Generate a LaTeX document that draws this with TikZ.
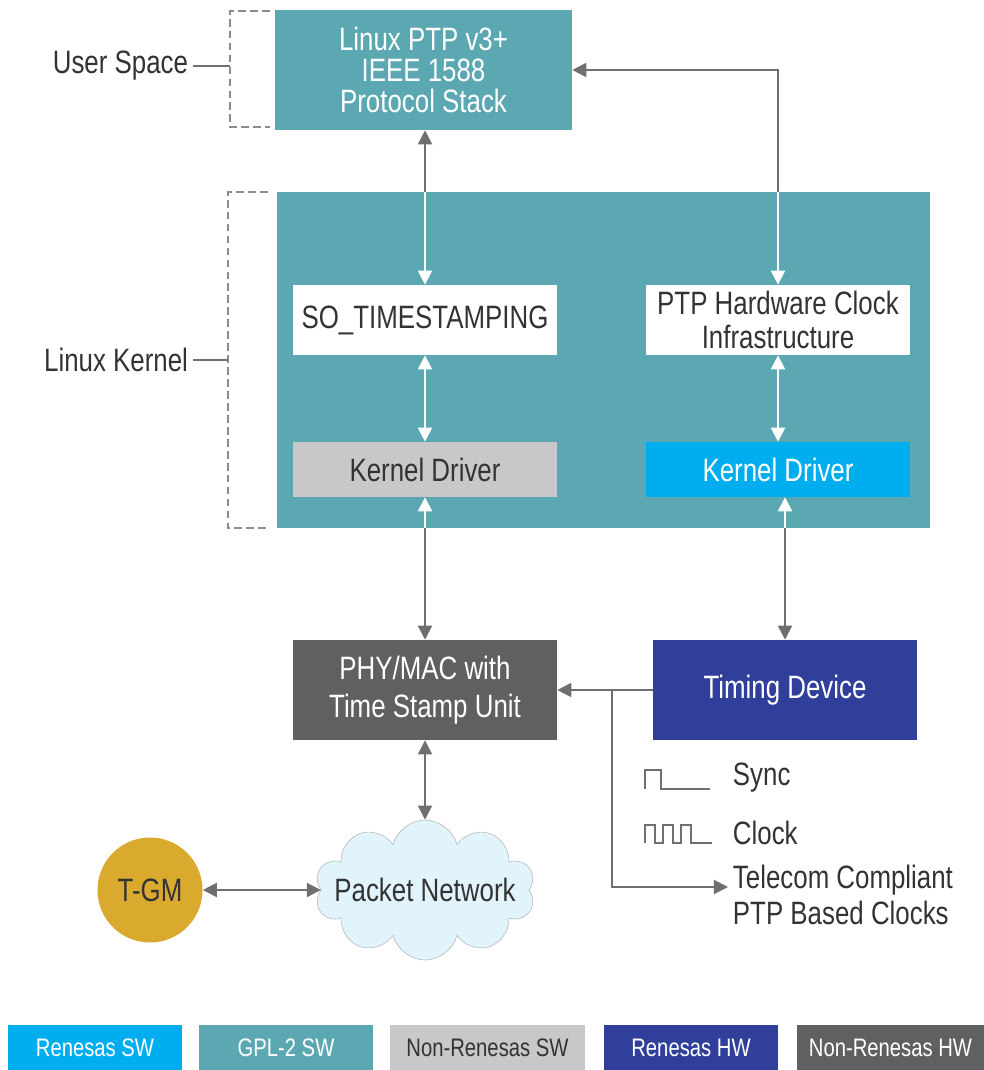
\documentclass[tikz,border=0pt]{standalone}
\usepackage{fontspec}
\setmainfont{Liberation Sans}[FakeStretch=0.8]
\usepackage{tikz}
\usepackage{xcolor}
\usetikzlibrary{arrows.meta,positioning,shapes}

\definecolor{renblue}{HTML}{00AEEF}
\definecolor{gplteal}{HTML}{5BA8B2}
\definecolor{nrgray}{HTML}{C8C8CA}
\definecolor{rennavy}{HTML}{30409A}
\definecolor{nrdark}{HTML}{5F6062}
\definecolor{tgmgold}{HTML}{DAAA2F}
\definecolor{cloudblue}{HTML}{E1F3FB}
\definecolor{cloudedge}{HTML}{B4B6B8}
\definecolor{linegray}{HTML}{6E6F71}
\definecolor{txt}{HTML}{333333}

\begin{document}
\begin{tikzpicture}[x=0.025cm, y=-0.025cm, >={Triangle[length=10pt,width=10pt]}]
    \tikzstyle{box} = [rectangle, inner sep=0pt, minimum width=6.6cm, text=txt, align=center,
                       font=\fontsize{23}{26}\selectfont]
    \tikzstyle{lbl} = [text=txt, font=\fontsize{23}{26}\selectfont]
    \tikzstyle{arr} = [draw=linegray, line width=1.4pt]
    \tikzstyle{arrw} = [draw=white, line width=1.4pt]
    \tikzstyle{brace} = [draw=linegray!80, line width=1pt, dash pattern=on 5.5pt off 3pt]
    \tikzstyle{legend} = [rectangle, inner sep=0pt, minimum height=1.125cm, font=\fontsize{18}{20}\selectfont]
    \useasboundingbox (0,0) rectangle (984,1070);

    % user space
    \node[box, fill=gplteal, text=white, minimum width=7.425cm, minimum height=3cm,
          font=\fontsize{23}{22}\selectfont] (stack) at (423.5,70) {Linux PTP v3+\\IEEE 1588\\Protocol Stack};

    % kernel
    \node[fill=gplteal, inner sep=0pt, minimum width=16.325cm, minimum height=8.4cm] (kernel) at (603.5,360) {};
    \node[box, fill=white, minimum height=1.75cm] (sots) at (425,320) {SO\_TIMESTAMPING};
    \node[box, fill=white, minimum height=1.75cm, font=\fontsize{23}{24}\selectfont] (phc) at (778,320) {PTP Hardware Clock\\Infrastructure};
    \node[box, fill=nrgray, minimum height=1.375cm] (kdl) at (425,469.5) {Kernel Driver};
    \node[box, fill=renblue, text=white, minimum height=1.375cm] (kdr) at (778,469.5) {Kernel Driver};

    % hardware
    \node[box, fill=nrdark, text=white, minimum height=2.5cm, font=\fontsize{23}{27}\selectfont] (phy) at (425,690) {PHY/MAC with\\Time Stamp Unit};
    \node[box, fill=rennavy, text=white, minimum height=2.5cm] (timing) at (785,690) {Timing Device};
    \node[circle, fill=tgmgold, inner sep=0pt, minimum size=2.625cm, lbl] (tgm) at (150,890) {T-GM};
    \node[cloud, cloud puffs=10, aspect=1.5, draw=cloudedge, fill=cloudblue, inner sep=0pt,
          minimum width=5.5cm, minimum height=3.5cm,
          label={[lbl]center:Packet Network}] (net) at (425,890) {};

    % side labels
    \node[lbl, anchor=east] (user) at (193,66) {User Space};
    \node[lbl, anchor=east] (kern) at (193,360) {Linux Kernel};
    \coordinate (userb) at (230,66);
    \coordinate (kernb) at (228,360);
    \draw[brace] (270,11) -| (230,127) -- (270,127);
    \draw[brace] (268,192) -| (228,528) -- (268,528);
    \draw[arr, line width=1pt] (user.east) -- (userb);
    \draw[arr, line width=1pt] (kern.east) -- (kernb);

    % signals
    \node[lbl, anchor=west] (sync) at (728,778) {Sync};
    \node[lbl, anchor=west] (clock) at (728,833) {Clock};
    \node[lbl, anchor=west, align=left, font=\fontsize{23}{25.6}\selectfont] (ptpclk) at (728,895) {Telecom Compliant\\PTP Based Clocks};
    \draw[linegray, line width=1.1pt] (645,789) -- (645,770) -- (661,770) -- (661,789) -- (710,789);
    \draw[linegray, line width=1.1pt] (645,843) -- (645,825) -- (655,825) -- (655,843) -- (663,843)
        -- (663,825) -- (673,825) -- (673,843) -- (681,843) -- (681,825) -- (691,825) -- (691,843) -- (712,843);
    \coordinate (br) at (612,690);

    % connectors
    \draw[arr, <-] (sots.north |- stack.south) -- (sots.north |- kernel.north);
    \draw[arrw, ->] (sots.north |- kernel.north) -- (sots.north);
    \draw[arr, ->] (phc.north |- kernel.north) |- (stack.east);
    \draw[arrw, ->] (phc.north |- kernel.north) -- (phc.north);
    \draw[arrw, <->] (sots) -- (kdl);
    \draw[arrw, <->] (phc) -- (kdr);
    \draw[arrw, <-] (kdl.south) -- (kdl.south |- kernel.south);
    \draw[arr, ->] (kdl.south |- kernel.south) -- (phy.north);
    \draw[arrw, <-] (timing.north |- kdr.south) -- (timing.north |- kernel.south);
    \draw[arr, ->] (timing.north |- kernel.south) -- (timing.north);
    \draw[arr, ->] (timing.west) -- (phy.east);
    \draw[arr, ->] (br) |- ([yshift=0.2cm]ptpclk.west);
    \draw[arr, <->] (phy) -- (net);
    \draw[arr, <->] (tgm) -- (net);

    % legend
    \foreach \x/\w/\c/\t/\name/\lab in {95/4.35/renblue/white/lg1/Renesas SW,
                                        286/4.35/gplteal/white/lg2/GPL-2 SW,
                                        487.5/4.875/nrgray/txt/lg3/Non-Renesas SW,
                                        691/4.35/rennavy/white/lg4/Renesas HW,
                                        890.5/4.675/nrdark/white/lg5/Non-Renesas HW}
        \node[legend, fill=\c, text=\t, minimum width=\w cm] (\name) at (\x,1047.5) {\lab};
\end{tikzpicture}
\end{document}
